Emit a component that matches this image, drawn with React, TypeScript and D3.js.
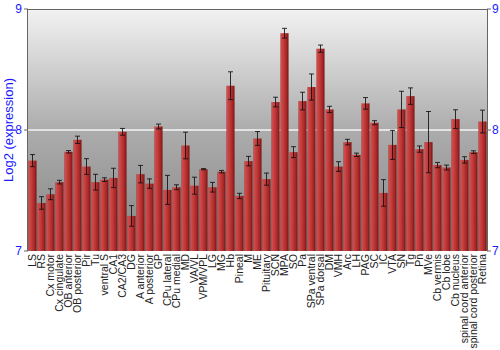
import React from "react";
import * as d3 from "d3";

const categories: string[] = [
  "LS", "RS", "Cx motor", "Cx cingulate", "OB anterior", "OB posterior", "Pir", "Tu",
  "ventral S", "CA1", "CA2/CA3", "DG", "A anterior", "A posterior", "GP", "CPu lateral",
  "CPu medial", "MD", "VA/VL", "VPM/VPL", "LG", "MG", "Hb", "Pineal", "M", "ME",
  "Pituitary", "SCN", "MPA", "SO", "Pa", "SPa ventral", "SPa dorsal", "DM", "VMH", "Arc",
  "LH", "PAG", "SC", "IC", "VTA", "SN", "Tg", "Pn", "MVe", "Cb vermis", "Cb lobe",
  "Cb nucleus", "spinal cord anterior", "spinal cord posterior", "Retina",
];

const values: number[] = [
  7.747, 7.397, 7.469, 7.569, 7.82, 7.919, 7.698, 7.569,
  7.59, 7.604, 7.985, 7.29, 7.635, 7.557, 8.029, 7.505,
  7.527, 7.872, 7.54, 7.676, 7.527, 7.656, 8.366, 7.455, 7.743, 7.93,
  7.594, 8.231, 8.8, 7.817, 8.239, 8.355, 8.672, 8.17, 7.698, 7.9,
  7.795, 8.22, 8.06, 7.48, 7.877, 8.17, 8.28, 7.842, 7.9, 7.71, 7.69,
  8.09, 7.753, 7.817, 8.07,
];

const errors: number[] = [
  0.05, 0.052, 0.045, 0.015, 0.01, 0.03, 0.065, 0.065,
  0.015, 0.08, 0.028, 0.085, 0.072, 0.039, 0.02, 0.12,
  0.02, 0.11, 0.07, 0.005, 0.04, 0.01, 0.115, 0.022, 0.039, 0.057,
  0.05, 0.04, 0.04, 0.045, 0.073, 0.108, 0.03, 0.026, 0.04, 0.023,
  0.014, 0.048, 0.017, 0.11, 0.12, 0.15, 0.068, 0.026, 0.253, 0.022, 0.02,
  0.077, 0.026, 0.011, 0.094,
];

const yTicks: number[] = [7, 8, 9];
const yDomain: [number, number] = [7, 9];

const W = 500;
const H = 350;
const left = 28;
const right = 487;
const top = 9;
const bottom = 251;
const FONT = "'Liberation Sans', Arial, sans-serif";

export default function App() {
  const x = d3.scaleBand<string>().domain(categories).range([left, right]).paddingInner(0.1).paddingOuter(0.05);
  const y = d3.scaleLinear().domain(yDomain).range([bottom, top]);
  const bw = x.bandwidth();

  return (
    <div style={{ position: "absolute", left: 0, top: 0 }}>
      <svg width={W} height={H} style={{ display: "block", background: "#fff" }}>
        <defs>
          <linearGradient id="bg" x1="0" y1="0" x2="0" y2="1">
            <stop offset="0" stopColor="#f2f2f2" />
            <stop offset="0.5" stopColor="#acacac" />
            <stop offset="1" stopColor="#858585" />
          </linearGradient>
          <linearGradient id="bar" x1="0" y1="0" x2="1" y2="0">
            <stop offset="0" stopColor="#a83030" />
            <stop offset="0.12" stopColor="#d04a4a" />
            <stop offset="0.4" stopColor="#c23a3a" />
            <stop offset="0.75" stopColor="#a42626" />
            <stop offset="1" stopColor="#7a1414" />
          </linearGradient>
        </defs>
        <rect x={left} y={top} width={right - left} height={bottom - top} fill="url(#bg)" />
        <line x1={left} x2={right} y1={y(8)} y2={y(8)} stroke="#f4f4f4" strokeWidth={1.5} />
        {categories.map((c, i) => {
          const v = values[i];
          const e = errors[i];
          const cx = (x(c) as number) + bw / 2;
          return (
            <g key={c}>
              <rect x={x(c)} y={y(v)} width={bw} height={bottom - y(v)} fill="url(#bar)" />
              <line x1={cx} x2={cx} y1={y(v + e)} y2={y(v - e)} stroke="#111" strokeOpacity={0.85} strokeWidth={1} />
              <line x1={cx - 2.5} x2={cx + 2.5} y1={y(v + e)} y2={y(v + e)} stroke="#111" strokeOpacity={0.85} strokeWidth={1} />
              <line x1={cx - 2.5} x2={cx + 2.5} y1={y(v - e)} y2={y(v - e)} stroke="#111" strokeOpacity={0.85} strokeWidth={1} />
            </g>
          );
        })}
        <line x1={left} x2={right} y1={top + 0.5} y2={top + 0.5} stroke="#666" />
        <line x1={left - 0.5} x2={left - 0.5} y1={top} y2={bottom} stroke="#666" />
        <line x1={right + 0.5} x2={right + 0.5} y1={top} y2={bottom} stroke="#666" />
        {yTicks.map((t) => (
          <g key={t}>
            <line x1={left - 4} x2={left} y1={y(t)} y2={y(t)} stroke="#666" />
            <line x1={right} x2={right + 4} y1={y(t)} y2={y(t)} stroke="#666" />
            <text x={left - 6} y={y(t)} dy="0.35em" textAnchor="end" fill="#1a1aff" fontSize={12} fontFamily={FONT}>{t}</text>
            <text x={right + 5} y={y(t)} dy="0.35em" textAnchor="start" fill="#1a1aff" fontSize={12} fontFamily={FONT}>{t}</text>
          </g>
        ))}
        <text
          transform={`translate(13,${(top + bottom) / 2}) rotate(-90)`}
          textAnchor="middle"
          fill="#1a1aff"
          fontSize={13}
          fontFamily={FONT}
        >
          Log2 (expression)
        </text>
        {categories.map((c) => (
          <text
            key={c}
            transform={`translate(${(x(c) as number) + bw / 2},${bottom + 3}) rotate(-90)`}
            textAnchor="end"
            dy="0.35em"
            fill="#222"
            fontSize={10.5}
            fontFamily={FONT}
          >
            {c}
          </text>
        ))}
      </svg>
    </div>
  );
}
